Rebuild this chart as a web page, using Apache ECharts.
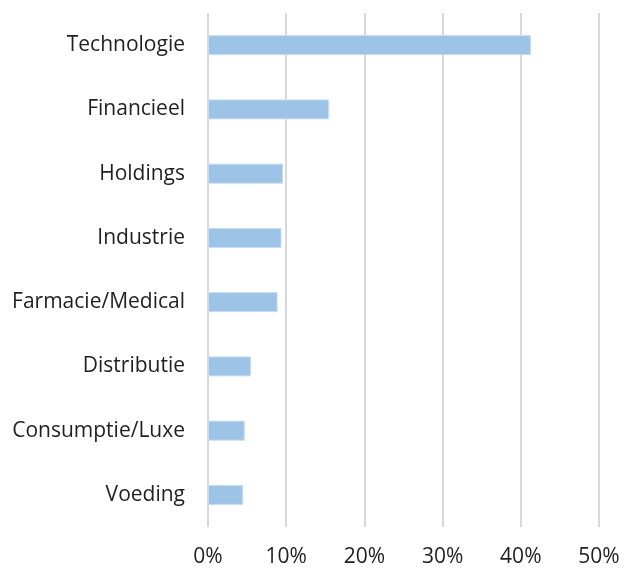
<!DOCTYPE html>
<html>
<head>
<meta charset="utf-8">
<script src="https://cdn.jsdelivr.net/npm/echarts@6/dist/echarts.min.js"></script>
<style>html,body{margin:0;padding:0;background:#fff}#c{width:628px;height:570px}</style>
</head>
<body>
<div id="c"></div>
<script>
const categories = ["Technologie","Financieel","Holdings","Industrie","Farmacie/Medical","Distributie","Consumptie/Luxe","Voeding"];
const values = [41.3, 15.5, 9.6, 9.4, 8.9, 5.5, 4.7, 4.5];
const tickLabels = ["0%","10%","20%","30%","40%","50%"];

const chart = echarts.init(document.getElementById('c'), null, {renderer:'canvas'});
chart.setOption({
  animation: false,
  grid: {left: 208, right: 29, top: 13, bottom: 43, containLabel: false},
  xAxis: {
    type: 'value', min: 0, max: 50, interval: 10,
    axisLine: {show: false}, axisTick: {show: false},
    splitLine: {show: true, lineStyle: {color: '#d9d9d9', width: 2}},
    axisLabel: {
      margin: 20, color: '#1f1f1f', fontFamily: 'Open Sans', fontSize: 21,
      formatter: v => tickLabels[Math.round(v/10)]
    }
  },
  yAxis: {
    type: 'category', data: categories, inverse: true,
    axisLine: {show: false}, axisTick: {show: false},
    axisLabel: {margin: 23, color: '#1f1f1f', fontFamily: 'Open Sans', fontSize: 21}
  },
  series: [{
    type: 'bar', data: values, barWidth: 20,
    itemStyle: {color: '#9dc3e6', borderColor: '#c9ddf2', borderWidth: 1}
  }]
});
</script>
</body>
</html>
